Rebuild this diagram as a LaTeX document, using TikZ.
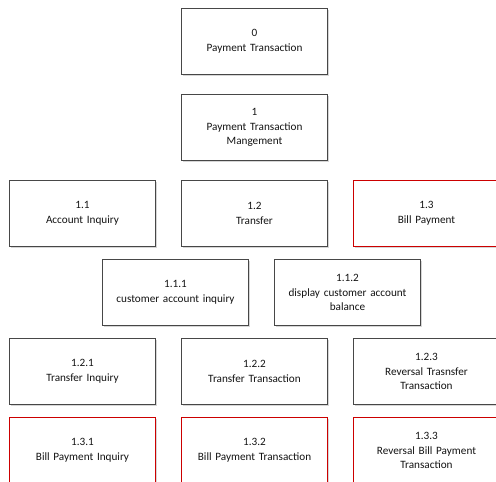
\documentclass[tikz,border=0pt]{standalone}
\usepackage{fontspec}
\setmainfont{Carlito}
\colorlet{boxline}{black!72}
\colorlet{billline}{red!80!black}
\colorlet{txt}{black!92}
\tikzset{
  x=1pt, y=-1pt,
  taskbase/.style={fill=white,
    minimum width=146pt, minimum height=66pt, inner sep=0pt,
    align=center, text width=140pt, text=txt,
    font=\fontsize{11.2}{14.5}\selectfont},
  task/.style={taskbase, draw=boxline, line width=1pt},
  billtask/.style={taskbase, draw=billline, line width=1.7pt},
  boxshadow/.style={fill=black!16, draw=none}
}
\begin{document}
\begin{tikzpicture}
\useasboundingbox (0,0) rectangle (496,482);
% faint shadows under every box
\foreach \cx/\cy in {254.5/41.5,254.5/127.5,82.5/213.5,254.5/213.5,426.5/213.5,
                     175.5/292.5,347.5/292.5,
                     82.5/371.5,254.5/371.5,426.5/371.5,82.5/450.5,254.5/450.5,426.5/450.5}
  \fill[boxshadow] (\cx-72,\cy-32) rectangle (\cx+74.4,\cy+34.4);
% level 0 and 1
\node[task] (n0) at (254.5,41.5) {0\\Payment Transaction};
\node[task] (n1) at (254.5,127.5) {1\\Payment Transaction\\Mangement};
% level 1.x
\node[task] (n11) at (82.5,213.5) {1.1\\Account Inquiry};
\node[task] (n12) at (254.5,213.5) {1.2\\Transfer};
\node[billtask] (n13) at (426.5,213.5) {1.3\\Bill Payment};
% account inquiry subtasks
\node[task] (n111) at (175.5,292.5) {1.1.1\\customer account inquiry};
\node[task] (n112) at (347.5,292.5) {1.1.2\\display customer account\\balance};
% transfer subtasks
\node[task] (n121) at (82.5,371.5) {1.2.1\\Transfer Inquiry};
\node[task] (n122) at (254.5,371.5) {1.2.2\\Transfer Transaction};
\node[task] (n123) at (426.5,371.5) {1.2.3\\Reversal Trasnsfer\\Transaction};
% bill payment subtasks
\node[billtask] (n131) at (82.5,450.5) {1.3.1\\Bill Payment Inquiry};
\node[billtask] (n132) at (254.5,450.5) {1.3.2\\Bill Payment Transaction};
\node[billtask] (n133) at (426.5,450.5) {1.3.3\\Reversal Bill Payment\\Transaction};
\end{tikzpicture}
\end{document}
